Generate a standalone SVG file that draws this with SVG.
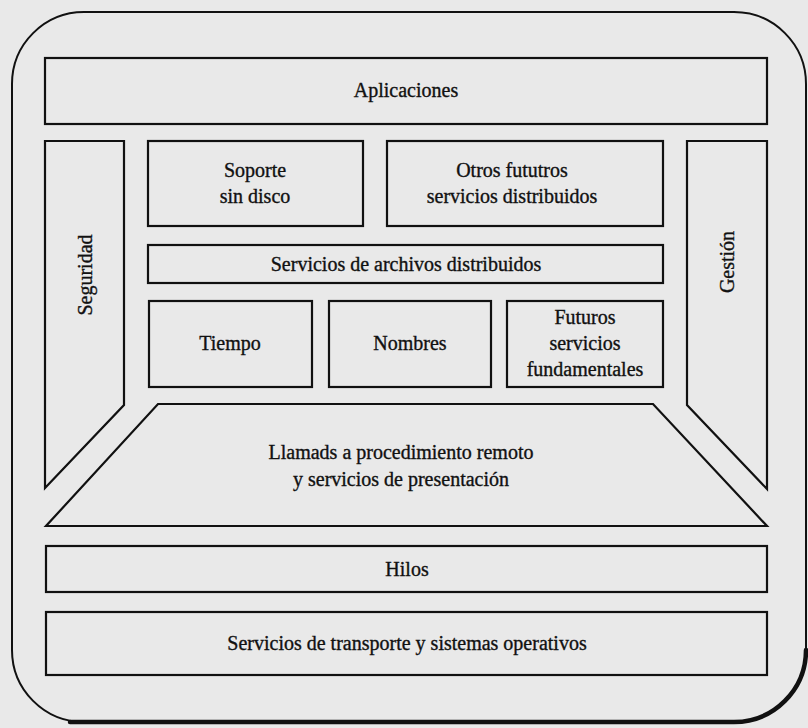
<svg xmlns="http://www.w3.org/2000/svg" width="808" height="728" viewBox="0 0 808 728">
  <style>
    .box { fill: none; stroke: #111; stroke-width: 2.2; stroke-linejoin: miter; }
    .frame { fill: none; stroke: #111; stroke-width: 2; }
    .shadow { fill: none; stroke: #111; stroke-width: 4.5; stroke-linecap: round; }
    .lbl { font-family: "Liberation Serif", "Times New Roman", serif; font-size: 20px; fill: #111; stroke: #111; stroke-width: 0.35; text-anchor: middle; }
  </style>
  <rect x="0" y="0" width="808" height="728" fill="#e9e9e9"/>

  <!-- outer rounded frame with heavy bottom-right edge -->
  <g id="frame">
    <rect class="frame" x="12" y="12" width="794" height="710" rx="72" ry="72"/>
    <path class="shadow" d="M 70 722 L 734 722 A 72 72 0 0 0 806 650"/>
  </g>

  <g id="aplicaciones">
    <rect class="box" x="45" y="58" width="722" height="66"/>
    <text class="lbl" x="406" y="97">Aplicaciones</text>
  </g>

  <g id="seguridad">
    <polygon class="box" points="45,141 124,141 124,405 45,488"/>
    <text class="lbl" transform="translate(92,275) rotate(-90)">Seguridad</text>
  </g>

  <g id="gestion">
    <polygon class="box" points="687,141 767,141 767,489 687,405"/>
    <text class="lbl" transform="translate(734,262) rotate(-90)">Gestión</text>
  </g>

  <g id="soporte">
    <rect class="box" x="148" y="141" width="215" height="85"/>
    <text class="lbl" x="255" y="177">Soporte</text>
    <text class="lbl" x="255" y="203">sin disco</text>
  </g>

  <g id="otros">
    <rect class="box" x="387" y="141" width="276" height="85"/>
    <text class="lbl" x="512" y="177">Otros fututros</text>
    <text class="lbl" x="512" y="203">servicios distribuidos</text>
  </g>

  <g id="archivos">
    <rect class="box" x="148" y="245" width="515" height="38"/>
    <text class="lbl" x="406" y="271">Servicios de archivos distribuidos</text>
  </g>

  <g id="tiempo">
    <rect class="box" x="149" y="301" width="163" height="86"/>
    <text class="lbl" x="230" y="350">Tiempo</text>
  </g>

  <g id="nombres">
    <rect class="box" x="329" y="301" width="162" height="86"/>
    <text class="lbl" x="410" y="350">Nombres</text>
  </g>

  <g id="futuros">
    <rect class="box" x="507" y="301" width="156" height="86"/>
    <text class="lbl" x="585" y="324">Futuros</text>
    <text class="lbl" x="585" y="350">servicios</text>
    <text class="lbl" x="585" y="376">fundamentales</text>
  </g>

  <g id="llamadas">
    <polygon class="box" points="158,404 653,404 767,526 46,526"/>
    <text class="lbl" x="401" y="459">Llamads a procedimiento remoto</text>
    <text class="lbl" x="401" y="486">y servicios de presentación</text>
  </g>

  <g id="hilos">
    <rect class="box" x="46" y="546" width="721" height="46"/>
    <text class="lbl" x="407" y="576">Hilos</text>
  </g>

  <g id="transporte">
    <rect class="box" x="46" y="612" width="721" height="63"/>
    <text class="lbl" x="407" y="650">Servicios de transporte y sistemas operativos</text>
  </g>

  <!-- layers touch by position only; no connector lines -->
  <g id="connectors"/>
</svg>
